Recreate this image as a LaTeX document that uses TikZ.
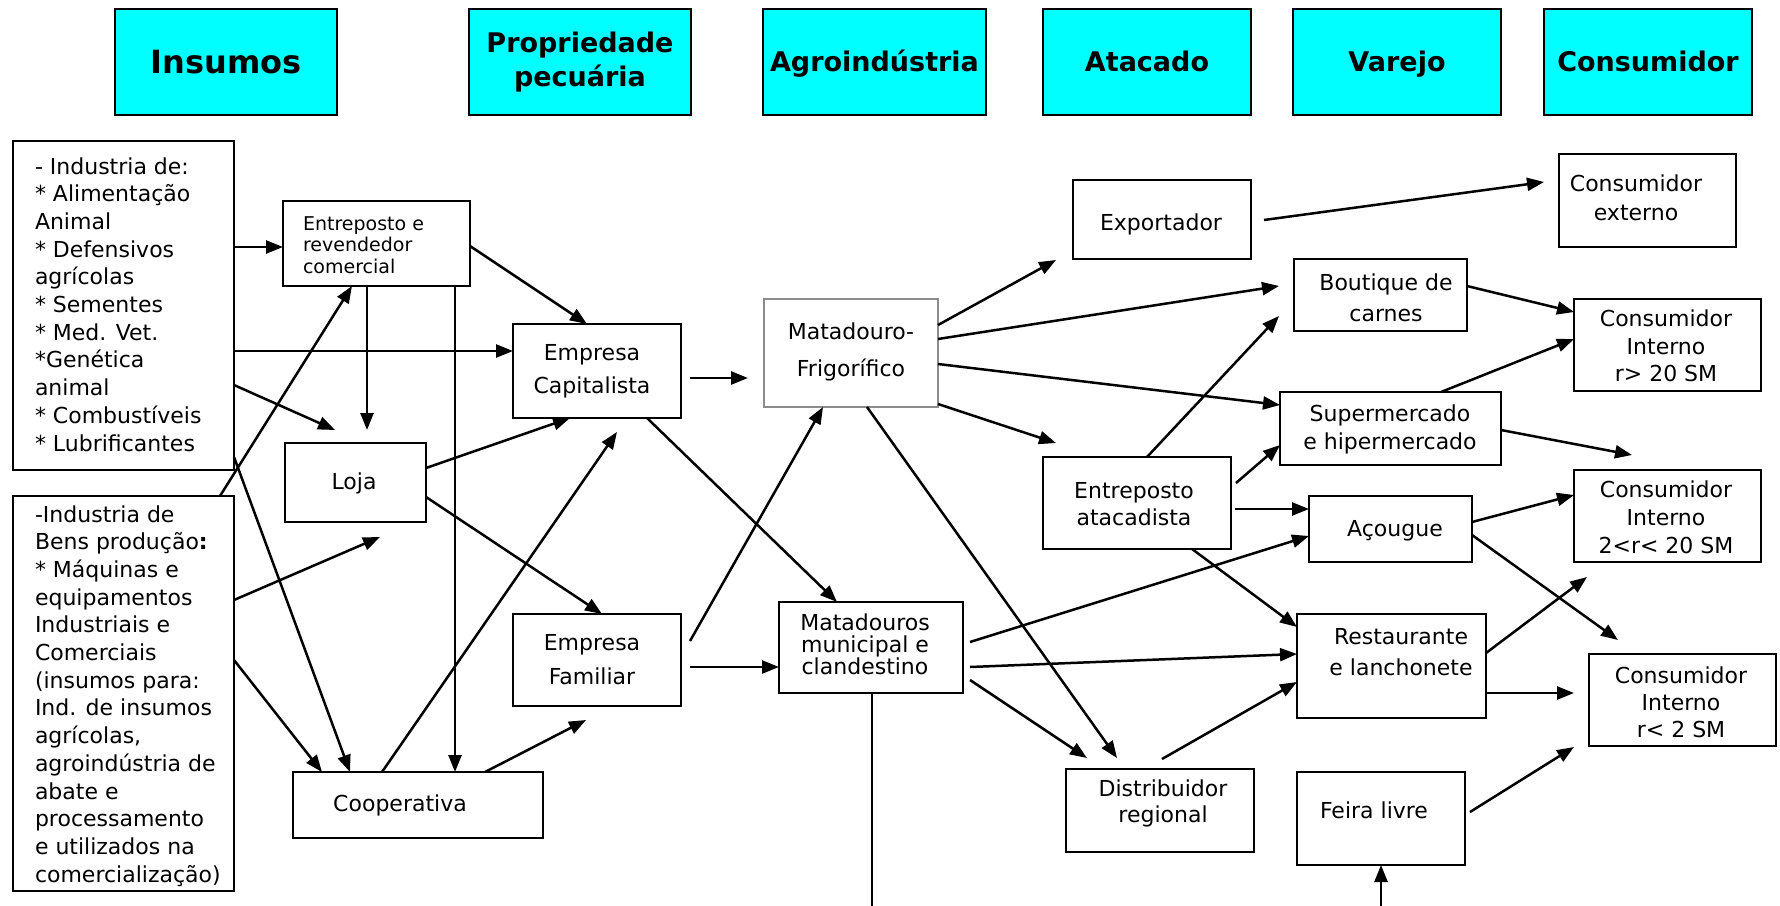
\documentclass[tikz,border=0pt]{standalone}
\usepackage{fontspec}
\setmainfont{DejaVu Sans}
\usetikzlibrary{arrows.meta}
\definecolor{hdr}{RGB}{0,255,255}
\definecolor{grayb}{RGB}{140,140,140}
\begin{document}
\begin{tikzpicture}[x=1pt,y=-1pt,
  box/.style={draw=black, line width=2pt, inner sep=0pt, outer sep=0pt},
  hbox/.style={box, fill=hdr, align=center},
  one/.style={text height=#1, text depth=0pt},
  one/.default=16pt,
  txt/.style={inner sep=0pt, outer sep=0pt, align=center, font=\fontsize{22}{27.7}\selectfont},
  arr/.style={line width=2.5pt, -{Triangle[length=17pt,width=13pt]}},
  ln/.style={line width=2.5pt},
  ]
\fill[white] (0,0) rectangle (1780,905);
\useasboundingbox (0,0) rectangle (1780,905);

% ---------- header ----------
\node[hbox, one=23.3pt, minimum width=222, minimum height=106, font=\fontsize{32}{38}\selectfont\bfseries] (h1) at (226,62) {Insumos};
\node[hbox, minimum width=222, minimum height=106, font=\fontsize{27}{34}\selectfont\bfseries] (h2) at (580,62) {Propriedade\\pecuária};
\node[hbox, one=19.7pt, minimum width=223, minimum height=106, font=\fontsize{27}{34}\selectfont\bfseries] (h3) at (874.5,62) {Agroindústria};
\node[hbox, one=19.7pt, minimum width=208, minimum height=106, font=\fontsize{27}{34}\selectfont\bfseries] (h4) at (1147,62) {Atacado};
\node[hbox, one=19.7pt, minimum width=208, minimum height=106, font=\fontsize{27}{34}\selectfont\bfseries] (h5) at (1397,62) {Varejo};
\node[hbox, one=19.7pt, minimum width=208, minimum height=106, font=\fontsize{27}{34}\selectfont\bfseries] (h6) at (1648,62) {Consumidor};

% ---------- boxes ----------
\node[box, minimum width=221, minimum height=329] (ins) at (123.5,305.5) {};
\node[box, minimum width=221, minimum height=395] (bens) at (123.5,693.5) {};
\node[box, minimum width=187, minimum height=85] (ent) at (376.5,243.5) {};
\node[box, minimum width=141, minimum height=79] (loja) at (355.5,482.5) {};
\node[box, minimum width=250, minimum height=66] (coop) at (418,805) {};
\node[box, minimum width=168, minimum height=94] (ecap) at (597,371) {};
\node[box, minimum width=168, minimum height=92] (efam) at (597,660) {};
\node[box, draw=grayb, minimum width=174, minimum height=108] (mfrig) at (851,353) {};
\node[box, minimum width=184, minimum height=91] (mmun) at (871,647.5) {};
\node[box, minimum width=178, minimum height=79] (exp) at (1162,219.5) {};
\node[box, minimum width=177, minimum height=93] (cext) at (1647.5,200.5) {};
\node[box, minimum width=173, minimum height=72] (bout) at (1380.5,295) {};
\node[box, minimum width=187, minimum height=92] (ci20) at (1667.5,345) {};
\node[box, minimum width=221, minimum height=73] (sup) at (1390.5,428.5) {};
\node[box, minimum width=188, minimum height=92] (eatac) at (1137,503) {};
\node[box, minimum width=163, minimum height=66] (acou) at (1390.5,529) {};
\node[box, minimum width=187, minimum height=92] (ci220) at (1667.5,516) {};
\node[box, minimum width=189, minimum height=104] (rest) at (1391.5,666) {};
\node[box, minimum width=187, minimum height=92] (ci2) at (1682.5,700) {};
\node[box, minimum width=188, minimum height=83] (dist) at (1160,810.5) {};
\node[box, minimum width=168, minimum height=93] (feira) at (1381,818.5) {};

% ---------- texts ----------
\node[txt, align=left, anchor=north west] (ins-t) at (35,157.3)
 {- Industria de:\\{*} Alimentação\\Animal\\{*} Defensivos\\agrícolas\\{*} Sementes\\{*} Med. Vet.\\{*}Genética\\animal\\{*} Combustíveis\\{*} Lubrificantes};
\node[txt, align=left, anchor=north west] (bens-t) at (35,505.3)
 {-Industria de\\Bens produção\textbf{:}\\{*} Máquinas e\\equipamentos\\Industriais e\\Comerciais\\(insumos para:\\Ind. de insumos\\agrícolas,\\agroindústria de\\abate e\\processamento\\e utilizados na\\comercialização)};
\node[txt, align=left, anchor=west, font=\fontsize{19}{21.7}\selectfont] (ent-t) at (303,245) {Entreposto e\\revendedor\\comercial};
\node[txt, one] (loja-t) at (354,481) {Loja};
\node[txt, one] (coop-t) at (400,803) {Cooperativa};
\node[txt, font=\fontsize{22}{33}\selectfont] (ecap-t) at (592,371.5) {Empresa\\Capitalista};
\node[txt, font=\fontsize{22}{34}\selectfont] (efam-t) at (592,660) {Empresa\\Familiar};
\node[txt, font=\fontsize{22}{37}\selectfont] (mfrig-t) at (851,351.5) {Matadouro-\\Frigorífico};
\node[txt, font=\fontsize{22}{22}\selectfont] (mmun-t) at (865,644) {Matadouros\\municipal e\\clandestino};
\node[txt, one] (exp-t) at (1161,222) {Exportador};
\node[txt, font=\fontsize{22}{29}\selectfont] (cext-t) at (1636,197.5) {Consumidor\\externo};
\node[txt, font=\fontsize{22}{31}\selectfont] (bout-t) at (1386,297.5) {Boutique de\\carnes};
\node[txt, font=\fontsize{22}{27.5}\selectfont] (ci20-t) at (1666,346) {Consumidor\\Interno\\r> 20 SM};
\node[txt, font=\fontsize{22}{28}\selectfont] (sup-t) at (1390,429.5) {Supermercado\\e hipermercado};
\node[txt, font=\fontsize{22}{27}\selectfont] (eatac-t) at (1134,504.5) {Entreposto\\atacadista};
\node[txt, one] (acou-t) at (1395,528) {Açougue};
\node[txt, font=\fontsize{22}{28}\selectfont] (ci220-t) at (1666,517) {Consumidor\\Interno\\2<r< 20 SM};
\node[txt, font=\fontsize{22}{31}\selectfont] (rest-t) at (1401,652.5) {Restaurante\\e lanchonete};
\node[txt, font=\fontsize{22}{27}\selectfont] (ci2-t) at (1681,702) {Consumidor\\Interno\\r< 2 SM};
\node[txt, font=\fontsize{22}{26}\selectfont] (dist-t) at (1163,803) {Distribuidor\\regional};
\node[txt, one] (feira-t) at (1374,810) {Feira livre};

% ---------- free connector ends ----------
\coordinate (lojaA) at (335,430);
\coordinate (lojaB) at (367,430);
\coordinate (lojaC) at (380,537);
\coordinate (ecapA) at (617,432);
\coordinate (efamA) at (586,720);
\coordinate (efamB) at (690,641);
\coordinate (distA) at (1117,758);
\coordinate (distB) at (1087,758);
\coordinate (mmunD) at (872,908);
\coordinate (feiraU) at (1381,908);
\coordinate (expA) at (1056,260);
\coordinate (boutA) at (1279,286);
\coordinate (boutB) at (1279,316);
\coordinate (eatacA) at (1056,443);
\coordinate (expB) at (1264,220);
\coordinate (cextA) at (1544,182);
\coordinate (ci220A) at (1632,455);
\coordinate (ci220B) at (1587,577);
\coordinate (eatacB) at (1236,483);
\coordinate (mmunA) at (970,642);
\coordinate (mmunB) at (970,667);
\coordinate (mmunC) at (970,680);
\coordinate (distC) at (1162,759);
\coordinate (ci2A) at (1618,640);
\coordinate (ci2B) at (1574,747);
\coordinate (ci2C) at (1574,693);
\coordinate (feiraA) at (1470,812);

% ---------- connectors: left ----------
\draw[arr] (ins.east |- 0,247) -- (ent.west |- 0,247);
\draw[arr] (ins.east |- 0,351) -- (ecap.west |- 0,351);
\draw[arr] (ins.east |- 0,385) -- (lojaA);
\draw[arr] (ins.east |- 0,457) -- (coop.north -| 350,0);
\draw[arr] (bens.north -| 220,0) -- (ent.south -| 352,0);
\draw[arr] (ent.south -| 367,0) -- (lojaB);
\draw[arr] (ent.south -| 455,0) -- (coop.north -| 455,0);
\draw[arr] (bens.east |- 0,600) -- (lojaC);
\draw[arr] (bens.east |- 0,660) -- (coop.north -| 322,0);
\draw[arr] (coop.north -| 382,0) -- (ecapA);
\draw[arr] (ent.east |- 0,246) -- (ecap.north -| 587,0);
\draw[arr] (loja.east |- 0,468) -- (ecap.south -| 570,0);
\draw[arr] (loja.east |- 0,497) -- (efam.north -| 602,0);
\draw[arr] (coop.north -| 485,0) -- (efamA);

% ---------- connectors: middle ----------
\draw[arr, shorten <=9pt, shorten >=16pt] (ecap.east |- 0,378) -- (mfrig.west |- 0,378);
\draw[arr] (ecap.south -| 647,0) -- (mmun.north -| 837,0);
\draw[arr] (efamB) -- (mfrig.south -| 823,0);
\draw[arr, shorten <=9pt] (efam.east |- 0,667) -- (mmun.west |- 0,667);
\draw[arr] (mfrig.south -| 867,0) -- (distA);
\draw[ln] (mmun.south -| 872,0) -- (mmunD);
\draw[arr] (feiraU) -- (feira.south -| 1381,0);
\draw[arr] (mfrig.east |- 0,325) -- (expA);
\draw[arr] (mfrig.east |- 0,339) -- (boutA);
\draw[arr] (mfrig.east |- 0,364) -- (sup.west |- 0,405);
\draw[arr] (mfrig.east |- 0,404) -- (eatacA);
\draw[arr] (mmunA) -- (acou.west |- 0,536);
\draw[arr] (mmunB) -- (rest.west |- 0,654);
\draw[arr] (mmunC) -- (distB);

% ---------- connectors: right ----------
\draw[arr] (expB) -- (cextA);
\draw[arr] (bout.east |- 0,286) -- (ci20.west |- 0,312);
\draw[arr] (sup.north -| 1441,0) -- (ci20.west |- 0,339);
\draw[arr] (sup.east |- 0,430) -- (ci220A);
\draw[arr] (eatac.north -| 1147,0) -- (boutB);
\draw[arr] (eatacB) -- (sup.west |- 0,445);
\draw[arr, shorten <=4pt] (eatac.east |- 0,509) -- (acou.west |- 0,509);
\draw[arr] (eatac.south -| 1192,0) -- (rest.west |- 0,627);
\draw[arr] (distC) -- (rest.west |- 0,682);
\draw[arr] (acou.east |- 0,522) -- (ci220.west |- 0,495);
\draw[arr] (acou.east |- 0,535) -- (ci2A);
\draw[arr] (rest.east |- 0,653) -- (ci220B);
\draw[arr] (rest.east |- 0,693) -- (ci2C);
\draw[arr] (feiraA) -- (ci2B);
\end{tikzpicture}
\end{document}
